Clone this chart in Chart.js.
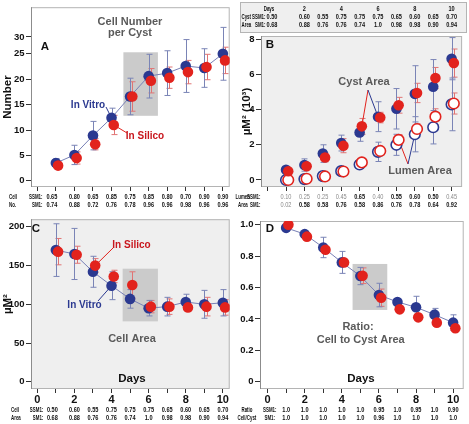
<!DOCTYPE html>
<html>
<head>
<meta charset="utf-8">
<script src="https://cdn.jsdelivr.net/npm/chart.js@4"></script>
<style>
  body { margin: 0; background: #fff; width: 469px; height: 424px; position: relative; overflow: hidden; }
  .pane { position: absolute; }
</style>
</head>
<body>
<div class="pane" style="left:0;top:0"><canvas id="chartA" width="235" height="212"></canvas></div>
<div class="pane" style="left:235px;top:0"><canvas id="chartB" width="234" height="212"></canvas></div>
<div class="pane" style="left:0;top:212px"><canvas id="chartC" width="235" height="212"></canvas></div>
<div class="pane" style="left:235px;top:212px"><canvas id="chartD" width="234" height="212"></canvas></div>
<script>
// --- data ---
const DAYS = [1, 2, 3, 4, 5, 6, 7, 8, 9, 10];
const X_TICKS = [0, 1, 2, 3, 4, 5, 6, 7, 8, 9, 10];
const X_TICK_LABELS = ['0', '', '2', '', '4', '', '6', '', '8', '', '10'];

// A: cell number per cyst (the "30" label sits lower than a regular step in the original)
const A_TICKS = [0, 5, 10, 15, 20, 25, 28.33];
const A_TICK_LABELS = ['0', '5', '10', '15', '20', '25', '30'];
const A_VITRO = [3.5, 5.1, 8.9, 12.4, 16.6, 20.6, 21.2, 22.6, 22.2, 25.0];
const A_VITRO_ERR = [0.9, 1.9, 2.8, 1.9, 3.6, 4.3, 4.4, 5.2, 3.8, 5.2];
const A_SILICO = [3.0, 4.5, 7.2, 11.0, 16.6, 19.7, 20.3, 21.4, 22.4, 23.7];
const A_SILICO_ERR = [0.7, 1.2, 1.1, 1.9, 2.9, 2.4, 2.1, 2.3, 2.5, 2.6];
const A_SSM1 = ['0.65', '0.80', '0.65', '0.85', '0.75', '0.85', '0.80', '0.70', '0.90', '0.90'];
const A_SM1 = ['0.74', '0.88', '0.72', '0.76', '0.78', '0.96', '0.96', '0.98', '0.96', '0.96'];

// B: cyst and lumen area (x 10^3 um^2)
const B_TICKS = [0, 2, 4, 6, 8];
const B_TICK_LABELS = ['0', '2', '4', '6', '8'];
const B_CYST_VITRO = [0.58, 0.85, 1.5, 2.1, 2.7, 3.6, 4.05, 4.9, 5.3, 6.9];
const B_CYST_VITRO_ERR = [0.15, 0.35, 0.5, 0.45, 0.5, 0.85, 1.15, 1.6, 1.55, 1.2];
const B_CYST_SILICO = [0.5, 0.78, 1.28, 1.95, 3.05, 3.55, 4.25, 4.95, 5.8, 6.65];
const B_CYST_SILICO_ERR = [0.1, 0.15, 0.25, 0.4, 0.45, 0.3, 0.45, 0.55, 0.6, 0.8];
const B_LUMEN_VITRO = [0.0, 0.05, 0.22, 0.5, 0.88, 1.6, 2.0, 2.6, 3.0, 4.3];
const B_LUMEN_VITRO_ERR = [0, 0, 0, 0, 0, 0.55, 0.6, 1.0, 0.95, 1.5];
const B_LUMEN_SILICO = [0.0, 0.07, 0.2, 0.48, 1.0, 1.65, 2.28, 2.9, 3.6, 4.35];
const B_LUMEN_SILICO_ERR = [0, 0, 0, 0, 0, 0, 0.3, 0.3, 0.45, 0.6];
const HEADER_DAYS = ['', '2', '', '4', '', '6', '', '8', '', '10'];
const CYST_SSM1 = ['0.50', '0.60', '0.55', '0.75', '0.75', '0.75', '0.65', '0.60', '0.65', '0.70'];
const CYST_SM1 = ['0.68', '0.88', '0.76', '0.76', '0.74', '1.0', '0.98', '0.98', '0.90', '0.94'];
const LUMEN_SSM1 = ['0.10', '0.25', '0.25', '0.45', '0.65', '0.40', '0.55', '0.60', '0.50', '0.45'];
const LUMEN_SSM1_GREY = [1, 1, 1, 1, 0, 1, 0, 0, 0, 1];
const LUMEN_SM1 = ['0.02', '0.58', '0.58', '0.76', '0.58', '0.86', '0.76', '0.78', '0.64', '0.92'];
const LUMEN_SM1_GREY = [1, 0, 0, 0, 0, 0, 0, 0, 0, 0];

// C: cell area
const C_TICKS = [0, 50, 100, 150, 200];
const C_TICK_LABELS = ['0', '50', '100', '150', '200'];
const C_VITRO = [170, 165, 142, 124, 107, 95, 97, 103, 100, 102];
const C_VITRO_ERR = [34, 33, 20, 18, 12, 10, 12, 10, 18, 17];
const C_SILICO = [168, 164, 150, 136, 125, 97, 97, 96, 97, 96];
const C_SILICO_ERR = [17, 11, 9, 8, 17, 8, 10, 3, 12, 10];
const C_SSM1 = ['0.50', '0.60', '0.55', '0.75', '0.75', '0.75', '0.65', '0.60', '0.65', '0.70'];
const C_SM1 = ['0.68', '0.88', '0.76', '0.76', '0.74', '1.0', '0.98', '0.98', '0.90', '0.94'];

// D: ratio cell area / cyst area
const D_TICKS = [0, 0.2, 0.4, 0.6, 0.8, 1.0];
const D_TICK_LABELS = ['0', '0.2', '0.4', '0.6', '0.8', '1.0'];
const D_VITRO = [0.98, 0.94, 0.855, 0.76, 0.673, 0.552, 0.508, 0.474, 0.427, 0.376];
const D_VITRO_ERR = [0.02, 0.01, 0.065, 0.07, 0.055, 0.075, 0.01, 0.07, 0.04, 0.05];
const D_SILICO = [1.0, 0.924, 0.84, 0.76, 0.675, 0.535, 0.461, 0.41, 0.376, 0.34];
const D_SILICO_ERR = [0.01, 0.01, 0.01, 0.01, 0.05, 0.055, 0.01, 0.01, 0.01, 0.01];
const D_SSM1 = ['1.0', '1.0', '1.0', '1.0', '1.0', '0.95', '1.0', '0.95', '1.0', '0.90'];
const D_SM1 = ['1.0', '1.0', '1.0', '1.0', '1.0', '0.96', '1.0', '1.0', '1.0', '1.0'];

// --- style ---
const FONT = '"Liberation Sans", Arial, Helvetica, sans-serif';
const BLUE = '#2b3990', RED = '#e2231d';
const BLUE_ERR = '#7a84b6', RED_ERR = '#e07474', LINK = '#7880b6';
const GREY_TXT = '#5a5a5a', PANEL_BG = '#efefef', BOX = '#cbcbcb', FRAME = '#b4b4b4';
const SILICO_SHIFT = 0.12;

Chart.defaults.font.family = FONT;
Chart.defaults.font.weight = 'bold';
Chart.defaults.color = '#111';

function pts(values, shift) {
  return DAYS.map((d, i) => ({ x: d + shift, y: values[i] }));
}

function txt(ctx, s, x, y, o = {}) {
  ctx.save();
  ctx.font = `${o.weight || 'bold'} ${o.size || 11}px ${FONT}`;
  ctx.fillStyle = o.color || '#111';
  ctx.textBaseline = 'middle';
  const sq = o.squeeze || 1;
  const w = ctx.measureText(s).width * sq;
  let x0 = x;
  if (o.align === 'center') x0 = x - w / 2;
  else if (o.align === 'right') x0 = x - w;
  ctx.translate(x0, y);
  ctx.scale(sq, 1);
  ctx.fillText(s, 0, 0);
  ctx.restore();
}

// table labels are narrower than the numbers in the original
function label(ctx, s, x, y, align) {
  txt(ctx, s, x, y, { size: 8, squeeze: 0.55, align });
}
function num(ctx, s, x, y, color, weight) {
  txt(ctx, s, x, y, { size: 8, squeeze: 0.7, align: 'center', color, weight });
}

function row(chart, y, values, firstShift, greys) {
  const xs = chart.scales.x;
  values.forEach((v, i) => {
    let px = xs.getPixelForValue(DAYS[i]);
    if (i === 0) px += firstShift;
    const g = greys && greys[i];
    num(chart.ctx, v, px, y, g ? '#8a8a8a' : '#111', g ? 'normal' : 'bold');
  });
}

function link(chart, x0, y0, day, val, color) {
  const ctx = chart.ctx;
  ctx.save();
  ctx.strokeStyle = color;
  ctx.lineWidth = 1;
  ctx.beginPath();
  ctx.moveTo(x0, y0);
  ctx.lineTo(chart.scales.x.getPixelForValue(day), chart.scales.y.getPixelForValue(val));
  ctx.stroke();
  ctx.restore();
}

const panelPlugin = {
  id: 'panel',
  beforeDraw(chart, args, o) {
    const { ctx, chartArea: a } = chart;
    ctx.save();
    ctx.fillStyle = o.bg;
    ctx.fillRect(a.left, a.top, a.width, a.height);
    ctx.restore();
  },
  beforeDatasetsDraw(chart, args, o) {
    const { ctx, chartArea: a, scales: { x, y } } = chart;
    ctx.save();
    if (o.box) {
      const [x0, x1, y0, y1] = o.box;
      ctx.fillStyle = BOX;
      const l = x.getPixelForValue(x0), r = x.getPixelForValue(x1);
      const t = y.getPixelForValue(y1), b = y.getPixelForValue(y0);
      ctx.fillRect(l, t, r - l, b - t);
    }
    ctx.strokeStyle = FRAME;
    ctx.lineWidth = 1;
    ctx.strokeRect(a.left + 0.5, a.top + 0.5, a.width - 1, a.height - 1);
    ctx.strokeStyle = '#8c8c8c';
    ctx.beginPath();
    ctx.moveTo(a.left + 0.5, a.top);
    ctx.lineTo(a.left + 0.5, a.bottom);
    ctx.stroke();
    ctx.restore();
  }
};

const errorBars = {
  id: 'errorBars',
  beforeDatasetsDraw(chart) {
    const { ctx, chartArea: a, scales: { x, y } } = chart;
    ctx.save();
    ctx.beginPath();
    ctx.rect(a.left, a.top, a.width, a.height);
    ctx.clip();
    chart.data.datasets.forEach(ds => {
      if (!ds.errors) return;
      ctx.strokeStyle = ds.errorColor;
      ctx.lineWidth = 1;
      ds.data.forEach((p, i) => {
        const e = ds.errors[i];
        if (!e) return;
        const px = Math.round(x.getPixelForValue(p.x)) + 0.5;
        const t = y.getPixelForValue(p.y + e), b = y.getPixelForValue(p.y - e);
        ctx.beginPath();
        ctx.moveTo(px, t); ctx.lineTo(px, b);
        ctx.moveTo(px - 3, t); ctx.lineTo(px + 3, t);
        ctx.moveTo(px - 3, b); ctx.lineTo(px + 3, b);
        ctx.stroke();
      });
    });
    ctx.restore();
  }
};

function dots(values, errs, color, shift, opts = {}) {
  return {
    data: pts(values, shift),
    errors: errs,
    errorColor: color === BLUE ? BLUE_ERR : RED_ERR,
    showLine: !!opts.line,
    borderColor: LINK,
    borderWidth: 1,
    pointRadius: 5.3,
    pointBackgroundColor: opts.open ? '#fff' : color,
    pointBorderColor: color,
    pointBorderWidth: opts.open ? 1.6 : 0
  };
}

function build(id, o) {
  return new Chart(document.getElementById(id), {
    type: 'scatter',
    data: { datasets: o.datasets },
    options: {
      responsive: false,
      animation: false,
      layout: { padding: o.pad },
      plugins: { legend: { display: false }, tooltip: { enabled: false }, panel: o.panel },
      scales: {
        x: {
          type: 'linear', min: o.xMin, max: o.xMax,
          afterBuildTicks: ax => { ax.ticks = X_TICKS.map(v => ({ value: v })); },
          afterFit: ax => { ax.height = o.xH; },
          grid: { drawOnChartArea: false, tickLength: 4, color: '#333' },
          border: { display: false },
          ticks: {
            padding: 0, maxRotation: 0, autoSkip: false, color: '#111',
            font: { size: 11, weight: 'bold' },
            callback: (v, i) => o.xLabels ? X_TICK_LABELS[i] : ''
          }
        },
        y: {
          type: 'linear', min: o.yMin, max: o.yMax,
          afterBuildTicks: ax => { ax.ticks = o.yTicks.map(v => ({ value: v })); },
          afterFit: ax => { ax.width = o.yW; },
          grid: { drawOnChartArea: false, tickLength: 5, color: '#333' },
          border: { display: false },
          ticks: {
            padding: 1.5, autoSkip: false, color: '#111',
            font: { size: 9.5, weight: 'bold' },
            callback: (v, i) => o.yLabels[i]
          },
          title: o.yTitle
            ? { display: true, text: o.yTitle, color: '#111', font: { size: 11.5, weight: 'bold' }, padding: { top: o.yTitlePad, bottom: 0 } }
            : { display: false }
        }
      }
    },
    plugins: [panelPlugin, errorBars, o.extra]
  });
}

// --- panel A ---
build('chartA', {
  pad: { left: 0, top: 3, right: 4, bottom: 20 },
  xMin: -0.34, xMax: 10.37, xH: 5, xLabels: false,
  yMin: -1.21, yMax: 34.17, yW: 31, yTicks: A_TICKS, yLabels: A_TICK_LABELS,
  yTitle: 'Number', yTitlePad: 1,
  panel: { bg: '#fff', box: [4.64, 6.5, 12.8, 25.3] },
  datasets: [
    dots(A_SILICO, A_SILICO_ERR, RED, SILICO_SHIFT),
    dots(A_VITRO, A_VITRO_ERR, BLUE, 0, { line: true })
  ],
  extra: {
    id: 'extraA',
    beforeDatasetsDraw(chart) {
      link(chart, 106, 107, 4, A_VITRO[3], BLUE);
      link(chart, 127, 133, 4 + SILICO_SHIFT, A_SILICO[3], RED);
    },
    afterDraw(chart) {
      const ctx = chart.ctx;
      txt(ctx, 'Cell Number', 130, 22, { align: 'center', color: GREY_TXT });
      txt(ctx, 'per Cyst', 130, 33, { align: 'center', color: GREY_TXT });
      txt(ctx, 'A', 45, 47, { align: 'center', size: 11.5 });
      txt(ctx, 'In Vitro', 88, 105, { align: 'center', size: 10, color: BLUE });
      txt(ctx, 'In Silico', 145, 136, { align: 'center', size: 10, color: '#c8161d' });
      label(ctx, 'Cell', 9, 196.5, 'left');
      label(ctx, 'SSM1:', 42.5, 196.5, 'right');
      label(ctx, 'No.', 9, 205, 'left');
      label(ctx, 'SM1:', 42.5, 205, 'right');
      row(chart, 196.5, A_SSM1, -4);
      row(chart, 205, A_SM1, -4);
    }
  }
});

// --- panel B ---
build('chartB', {
  pad: { left: 0, top: 36, right: 4, bottom: 20 },
  xMin: -0.36, xMax: 10.57, xH: 5, xLabels: false,
  yMin: -0.4, yMax: 8.19, yW: 26, yTicks: B_TICKS, yLabels: B_TICK_LABELS,
  yTitle: 'µM² (10³)', yTitlePad: 5,
  panel: { bg: PANEL_BG },
  datasets: [
    dots(B_CYST_SILICO, B_CYST_SILICO_ERR, RED, SILICO_SHIFT),
    dots(B_LUMEN_SILICO, B_LUMEN_SILICO_ERR, RED, SILICO_SHIFT, { open: true }),
    dots(B_CYST_VITRO, B_CYST_VITRO_ERR, BLUE, 0),
    dots(B_LUMEN_VITRO, B_LUMEN_VITRO_ERR, BLUE, 0, { open: true })
  ],
  extra: {
    id: 'extraB',
    beforeDatasetsDraw(chart) {
      link(chart, 133, 90, 5 + SILICO_SHIFT, B_CYST_SILICO[4], RED);
      link(chart, 133, 90, 6, B_CYST_VITRO[5], BLUE);
      link(chart, 173, 164, 7 + SILICO_SHIFT, B_LUMEN_SILICO[6], RED);
      link(chart, 173, 164, 8, B_LUMEN_VITRO[7], BLUE);
    },
    afterDraw(chart) {
      const ctx = chart.ctx;
      // header table
      ctx.save();
      ctx.fillStyle = PANEL_BG;
      ctx.fillRect(5, 2, 227, 31);
      ctx.strokeStyle = FRAME;
      ctx.strokeRect(5.5, 2.5, 226, 30);
      ctx.restore();
      label(ctx, 'Days', 34, 8.5, 'center');
      row(chart, 8.5, HEADER_DAYS, 0);
      label(ctx, 'Cyst', 6.5, 16.5, 'left');
      label(ctx, 'SSM1:', 30.5, 16.5, 'right');
      label(ctx, 'Area', 6.5, 24.5, 'left');
      label(ctx, 'SM1:', 30.5, 24.5, 'right');
      const firstHeader = 37 - chart.scales.x.getPixelForValue(1);
      row(chart, 16.5, CYST_SSM1, firstHeader);
      row(chart, 24.5, CYST_SM1, firstHeader);
      // labels
      txt(ctx, 'B', 35, 45, { align: 'center', size: 11.5 });
      txt(ctx, 'Cyst Area', 129, 82, { align: 'center', color: GREY_TXT });
      txt(ctx, 'Lumen Area', 185, 171, { align: 'center', color: GREY_TXT });
      // lumen rows
      label(ctx, 'Lumen', 0.5, 196.5, 'left');
      label(ctx, 'SSM1:', 25.5, 196.5, 'right');
      label(ctx, 'Area', 3, 205, 'left');
      label(ctx, 'SM1:', 25.5, 205, 'right');
      row(chart, 196.5, LUMEN_SSM1, 0, LUMEN_SSM1_GREY);
      row(chart, 205, LUMEN_SM1, 0, LUMEN_SM1_GREY);
    }
  }
});

// --- panel C ---
build('chartC', {
  pad: { left: 0, top: 6, right: 4, bottom: 20 },
  xMin: -0.34, xMax: 10.37, xH: 15, xLabels: true,
  yMin: -9.36, yMax: 209.9, yW: 31, yTicks: C_TICKS, yLabels: C_TICK_LABELS,
  yTitle: 'µM²', yTitlePad: 1,
  panel: { bg: PANEL_BG, box: [4.6, 6.5, 78, 146] },
  datasets: [
    dots(C_SILICO, C_SILICO_ERR, RED, SILICO_SHIFT),
    dots(C_VITRO, C_VITRO_ERR, BLUE, 0, { line: true })
  ],
  extra: {
    id: 'extraC',
    beforeDatasetsDraw(chart) {
      link(chart, 113, 36, 3 + SILICO_SHIFT, C_SILICO[2], RED);
      link(chart, 98, 89, 4, C_VITRO[3], BLUE);
    },
    afterDraw(chart) {
      const ctx = chart.ctx;
      txt(ctx, 'C', 36, 17, { align: 'center', size: 11.5 });
      txt(ctx, 'In Silico', 131.5, 33.5, { align: 'center', size: 10, color: '#c8161d' });
      txt(ctx, 'In Vitro', 84.5, 93, { align: 'center', size: 10, color: BLUE });
      txt(ctx, 'Cell Area', 132, 127, { align: 'center', color: GREY_TXT });
      txt(ctx, 'Days', 132, 167, { align: 'center', size: 11.5 });
      label(ctx, 'Cell', 11, 197.3, 'left');
      label(ctx, 'SSM1:', 43.3, 197.3, 'right');
      label(ctx, 'Area', 11, 205.7, 'left');
      label(ctx, 'SM1:', 43.3, 205.7, 'right');
      row(chart, 197.3, C_SSM1, -3.5);
      row(chart, 205.7, C_SM1, -3.5);
    }
  }
});

// --- panel D ---
build('chartD', {
  pad: { left: 0, top: 9, right: 4, bottom: 20 },
  xMin: -0.41, xMax: 10.57, xH: 15, xLabels: true,
  yMin: -0.0465, yMax: 1.0236, yW: 25, yTicks: D_TICKS, yLabels: D_TICK_LABELS,
  yTitle: '',
  panel: { bg: '#fff', box: [4.58, 6.45, 0.457, 0.75] },
  datasets: [
    dots(D_SILICO, D_SILICO_ERR, RED, SILICO_SHIFT),
    dots(D_VITRO, D_VITRO_ERR, BLUE, 0, { line: true })
  ],
  extra: {
    id: 'extraD',
    afterDraw(chart) {
      const ctx = chart.ctx;
      txt(ctx, 'D', 35, 17, { align: 'center', size: 11.5 });
      txt(ctx, 'Ratio:', 123, 115, { align: 'center', color: GREY_TXT });
      txt(ctx, 'Cell to Cyst Area', 125.7, 128, { align: 'center', color: GREY_TXT });
      txt(ctx, 'Days', 126, 167, { align: 'center', size: 11.5 });
      label(ctx, 'Ratio', 6.5, 197.3, 'left');
      label(ctx, 'SSM1:', 41.5, 197.3, 'right');
      label(ctx, 'Cell/Cyst', 2.5, 205.7, 'left');
      label(ctx, 'SM1:', 40, 205.7, 'right');
      row(chart, 197.3, D_SSM1, 0);
      row(chart, 205.7, D_SM1, 0);
    }
  }
});
</script>
</body>
</html>
